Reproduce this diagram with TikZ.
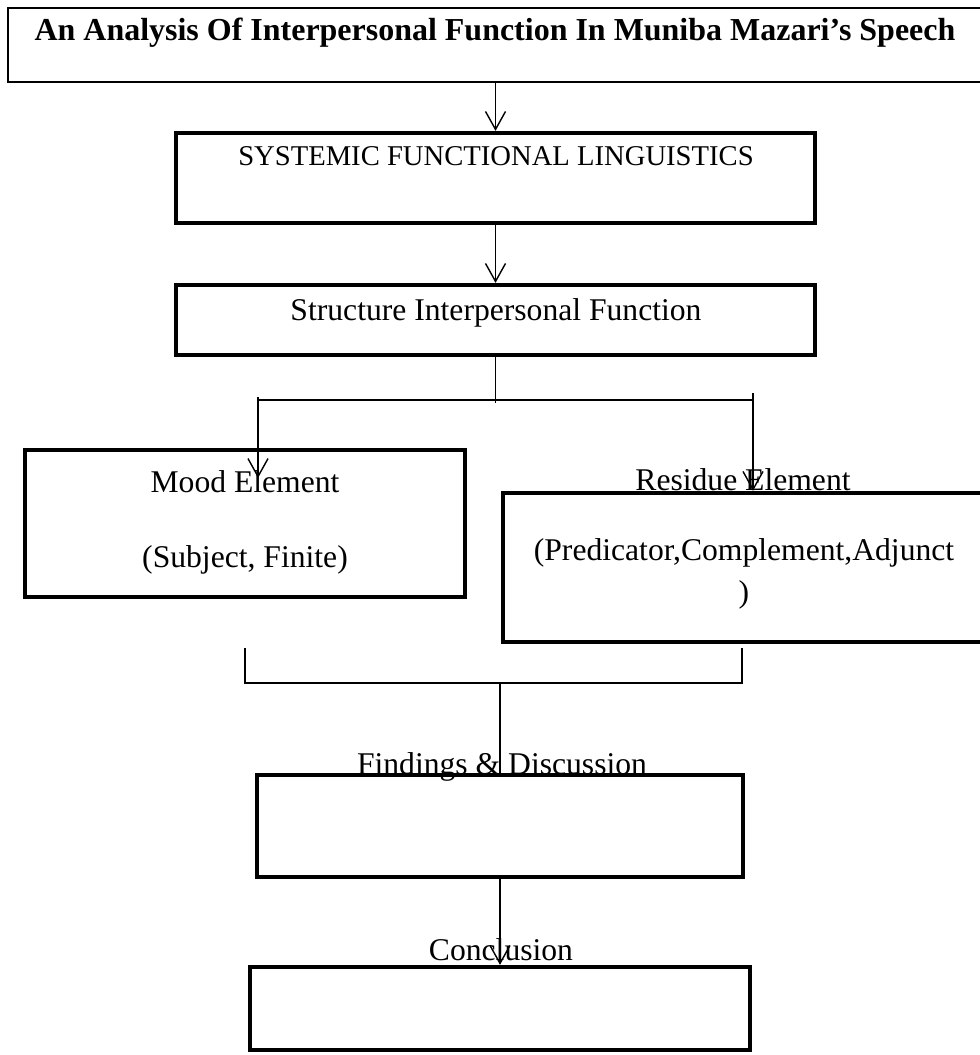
\documentclass[tikz,border=0pt]{standalone}
\usepackage{fontspec}
\setmainfont{Liberation Serif}
\usetikzlibrary{arrows.meta,calc,fit,positioning}
\tikzset{
  flow/.style={-{Straight Barb[length=3.6mm,width=4mm]}, line width=0.8pt},
  link/.style={line width=0.8pt},
  frame box/.style={draw, line width=2.4pt, inner sep=0pt},
  title box/.style={draw, line width=1pt, inner sep=0pt},
  box text/.style={anchor=base, inner sep=0pt, align=center,
    font=\fontsize{18}{21}\selectfont},
  title text/.style={box text, font=\fontsize{18.2}{21}\selectfont\bfseries}
}

\begin{document}
\begin{tikzpicture}[x=0.02cm, y=-0.02cm]
  \useasboundingbox (0,0) rectangle (980,1055);
  \clip (0,0) rectangle (980,1055);
  % texts
  \node[title text] (titletext) at (495,40)
    {An Analysis Of Interpersonal Function In Muniba Mazari’s Speech};
  \node[box text, font=\fontsize{16.3}{19}\selectfont] (sfltext) at (496,165)
    {SYSTEMIC FUNCTIONAL LINGUISTICS};
  \node[box text] (structtext) at (496,320) {Structure Interpersonal Function};
  \node[box text] (moodtext) at (245,492) {Mood Element};
  \node[box text] (moodsub) at (245,567) {(Subject, Finite)};
  \node[box text] (residuetext) at (743,490) {Residue Element};
  \node[box text, font=\fontsize{18}{0.84cm}\selectfont] (residuesub) at (744,602)
    {(Predicator,Complement,Adjunct\\)};
  \node[box text] (findingstext) at (502,774) {Findings \& Discussion};
  \node[box text] (concltext) at (501,960) {Conclusion};
  % boxes
  \node[title box, fit={(8,8) (990,82)}] (title) {};
  \node[frame box, fit={(176,133) (815,223)}] (sfl) {};
  \node[frame box, fit={(176,285) (815,355)}] (struct) {};
  \node[frame box, fit={(25,450) (465,597)}] (mood) {};
  \node[frame box, fit={(503,493) (990,642)}] (residue) {};
  \node[frame box, fit={(257,775) (743,877)}] (findings) {};
  \node[frame box, fit={(250,967) (750,1050)}] (concl) {};
  % helper points
  \coordinate (split) at (495.5,403);
  \coordinate (splitL) at (258,400);
  \coordinate (splitR) at (753,400);
  \coordinate (moodtip) at (258,478);
  \coordinate (joinL) at (245,648);
  \coordinate (joinR) at (742,648);
  \coordinate (join) at (500,683);
  % connectors
  \draw[flow] (sfl.north |- title.south) -- (sfl.north);
  \draw[flow] (sfl.south) -- (struct.north);
  \draw[link] (struct.south) -- (split);
  \draw[link] (splitL) -- (splitR);
  \draw[flow] ($(splitL)+(0,-3)$) -- (moodtip);
  \draw[flow] ($(splitR)+(0,-7)$) -- (residue.north -| splitR);
  \draw[link] (joinL) |- (join) -| (joinR);
  \draw[link] (join) -- (findings.north);
  \draw[flow] (findings.south) -- (concl.north);
\end{tikzpicture}
\end{document}
